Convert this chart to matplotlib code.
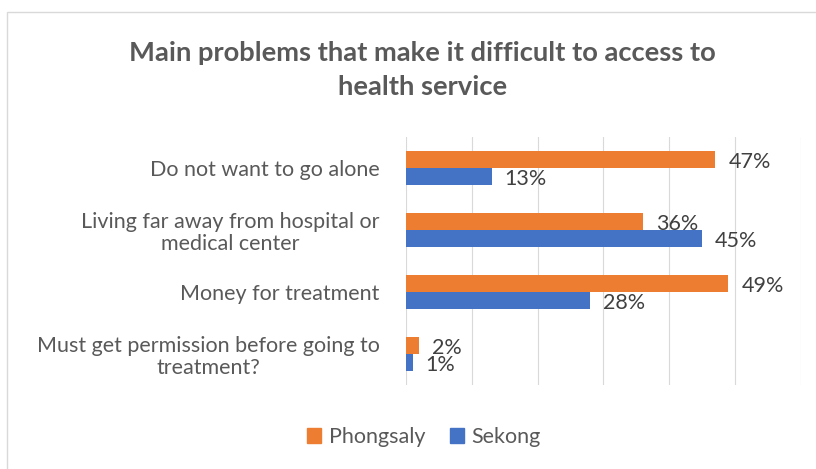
import matplotlib
matplotlib.use('Agg')
from matplotlib import pyplot as plt
from matplotlib.patches import Rectangle, Patch
import numpy as np

plt.rcParams['font.family'] = ['Lato', 'DejaVu Sans']

title = 'Main problems that make it difficult to access to\nhealth service'
categories = ['Do not want to go alone',
              'Living far away from hospital or\nmedical center',
              'Money for treatment',
              'Must get permission before going to\ntreatment?']
series = ['Phongsaly', 'Sekong']
phongsaly = [47, 36, 49, 2]
sekong = [13, 45, 28, 1]
colors = ['#ED7D31', '#4472C4']

W, H = 816, 469
fig = plt.figure(figsize=(W / 100, H / 100), dpi=100)

# light frame round the chart area
fig.patches.append(Rectangle((7 / W, 0 - 0.1), 1.2, 1 - 12 / H + 0.1,
                             transform=fig.transFigure, fill=False,
                             edgecolor='#D9D9D9', linewidth=1.0))

ax = fig.add_axes([406 / W, 1 - 385 / H, 394.7 / W, 248 / H])

y = np.arange(len(categories))
bh = 0.27
for vals, off, c in zip([phongsaly, sekong], [-bh / 2, bh / 2], colors):
    bars = ax.barh(y + off, vals, height=bh, color=c, zorder=3)
    for b, v in zip(bars, vals):
        ax.annotate('%d%%' % v, (b.get_width(), b.get_y() + b.get_height() / 2),
                    xytext=(9.5, -2), textcoords='offset points',
                    ha='left', va='center', fontsize=15.5, color='#404040')

ax.set_xlim(0, 60)
ax.set_ylim(3.5, -0.5)
ax.set_xticks(np.arange(0, 61, 10))
ax.grid(axis='x', color='#D9D9D9', linewidth=0.8, zorder=0)
ax.tick_params(axis='x', length=0, labelbottom=False)
ax.tick_params(axis='y', length=0, pad=19)
ax.set_yticks(y)
ax.set_yticklabels(categories, fontsize=15.5, color='#595959',
                   ha='right', multialignment='center', linespacing=1.1)
for s in ax.spines.values():
    s.set_visible(False)

fig.text(0.518, 1 - 70 / H, title, ha='center', va='center', fontsize=19.7,
         fontweight='bold', color='#595959', linespacing=1.5)

handles = [Patch(color=c) for c in colors]
fig.legend(handles, series, loc='center', bbox_to_anchor=(424 / W, 1 - 437 / H),
           ncol=2, frameon=False, fontsize=15.5, handlelength=0.65,
           handleheight=0.65, handletextpad=0.36, columnspacing=1.12,
           labelcolor='#595959')

fig.savefig('out.png', dpi=100)
